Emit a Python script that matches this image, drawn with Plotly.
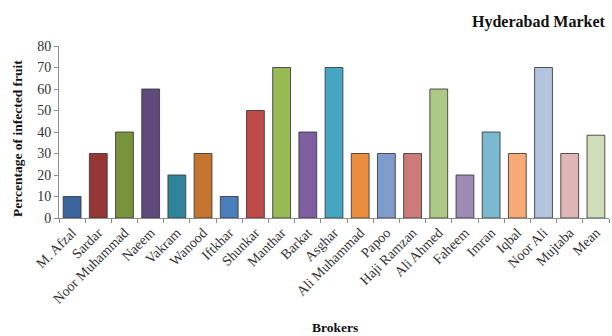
import plotly.graph_objects as go

brokers = ["M. Afzal", "Sardar", "Noor Muhammad", "Naeem", "Vakram", "Wanood",
           "Iftkhar", "Shunkar", "Manthar", "Barkat", "Asghar", "Ali Muhammad",
           "Papoo", "Haji Ramzan", "Ali Ahmed", "Faheem", "Imran", "Iqbal",
           "Noor Ali", "Mujtaba"]
infected_pct = [10, 30, 40, 60, 20, 30, 10, 50, 70, 40, 70, 30,
                30, 30, 60, 20, 40, 30, 70, 30]

# mean across all brokers is drawn as its own bar
categories = brokers + ["Mean"]
values = infected_pct + [sum(infected_pct) / len(infected_pct)]

bar_colors = [
    "#3B659C", "#953735", "#78933C", "#5F4A7B", "#31849B", "#C4742F",
    "#4A7EBB", "#BE4B48", "#98B954", "#7D5FA0", "#46A5C1", "#EB8D3E",
    "#7F9CCB", "#CC7B79", "#AEC885", "#9D8BB5", "#7AB9D0", "#F8AA76",
    "#B4C3DE", "#DFB5B5", "#CFDDB8",
]

serif = "Liberation Serif, Times New Roman, serif"

# page size and plot margins in pixels
L, R, T, B = 59, 3, 46, 118
W, H = 612, 336
PW, PH = W - L - R, H - T - B


def px_x(x):
    """Horizontal page pixel -> paper coordinate."""
    return (x - L) / PW


def px_y(y):
    """Vertical page pixel (from top) -> paper coordinate."""
    return (T + PH - y) / PH


fig = go.Figure(go.Bar(
    x=categories,
    y=values,
    marker=dict(color=bar_colors, line=dict(color="rgba(55,55,55,0.85)", width=1)),
    width=0.68,
))

fig.update_layout(
    width=W, height=H,
    margin=dict(l=L, r=R, t=T, b=B),
    paper_bgcolor="white", plot_bgcolor="white",
    showlegend=False,
    font=dict(family=serif, color="#404040", size=12),
    annotations=[
        dict(text="<b>Hyderabad Market</b>", x=px_x(608), y=px_y(22),
             xref="paper", yref="paper", showarrow=False,
             font=dict(family=serif, size=16, color="#111"),
             xanchor="right", yanchor="middle"),
        dict(text="<b>Percentage of infected fruit</b>", textangle=-90,
             x=px_x(17), y=px_y(139), xref="paper", yref="paper",
             showarrow=False, font=dict(family=serif, size=13.5, color="#111"),
             xanchor="center", yanchor="middle"),
        dict(text="<b>Brokers</b>", x=px_x(335), y=px_y(327),
             xref="paper", yref="paper", showarrow=False,
             font=dict(family=serif, size=13.5, color="#111"),
             xanchor="center", yanchor="middle"),
    ],
)

fig.update_xaxes(
    showline=True, linecolor="#8c8c8c", linewidth=1,
    ticks="outside", ticklen=4, tickcolor="#8c8c8c", tickson="boundaries",
    tickangle=-45, tickfont=dict(family=serif, size=14, color="#333"),
    showgrid=False, range=[-0.5, 20.5],
)
fig.update_yaxes(
    range=[0, 80], dtick=10,
    showline=True, linecolor="#8c8c8c", linewidth=1,
    ticks="outside", ticklen=4, tickcolor="#8c8c8c",
    tickfont=dict(family=serif, size=14, color="#333"),
    showgrid=False, zeroline=False,
)

fig.write_html("out.html")
